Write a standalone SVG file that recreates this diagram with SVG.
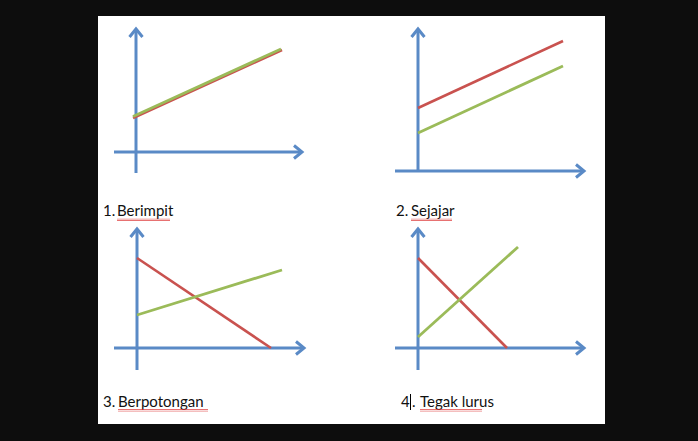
<svg xmlns="http://www.w3.org/2000/svg" width="698" height="441" viewBox="0 0 698 441">
<style>
.axis{stroke:#5a8ac6;stroke-width:3;fill:none;marker-end:url(#arr)}
.red{stroke:#c9524f;stroke-width:2.6;fill:none}
.green{stroke:#9bbb59;stroke-width:2.8;fill:none}
.lbl{font-family:"Lato","Liberation Sans",sans-serif;font-size:15px;fill:#111}
.sq{fill:url(#squig)}
</style>
<defs>
<marker id="arr" markerUnits="userSpaceOnUse" markerWidth="20" markerHeight="20" viewBox="-12 -10 14 20" refX="0" refY="0" orient="auto">
<path d="M-8,-6.5 L0,0 L-8,6.5" fill="none" stroke="#5a8ac6" stroke-width="3"/>
</marker>
<pattern id="squig" width="2" height="3" patternUnits="userSpaceOnUse">
<path d="M0,2.5 L1,0.5 L2,2.5" fill="none" stroke="#d33" stroke-width="0.7"/>
</pattern>
</defs>
<rect width="698" height="441" fill="#0d0d0d"/>
<rect x="98" y="16" width="507" height="408" fill="#ffffff"/>

<g id="panel1">
<line class="axis" x1="136" y1="173" x2="136" y2="29"/>
<line class="axis" x1="114" y1="152" x2="302" y2="152"/>
<line class="red" x1="133" y1="118" x2="282" y2="50"/>
<line class="green" x1="133" y1="116.5" x2="281" y2="49"/>
<text class="lbl" y="216"><tspan x="103">1.</tspan><tspan x="117">Berimpit</tspan></text>
<rect class="sq" x="117" y="218" width="53" height="3"/>
</g>

<g id="panel2">
<line class="axis" x1="418" y1="172" x2="418" y2="29"/>
<line class="axis" x1="395" y1="171" x2="584" y2="171"/>
<line class="red" x1="418" y1="108" x2="563" y2="41"/>
<line class="green" x1="418" y1="133" x2="563" y2="66"/>
<text class="lbl" y="216"><tspan x="396">2.</tspan><tspan x="411">Sejajar</tspan></text>
<rect class="sq" x="411" y="218" width="41" height="3"/>
</g>

<g id="panel3">
<line class="axis" x1="137" y1="370" x2="137" y2="229"/>
<line class="axis" x1="114" y1="348" x2="304" y2="348"/>
<line class="red" x1="137" y1="258" x2="271" y2="348"/>
<line class="green" x1="137" y1="315" x2="282" y2="270"/>
<text class="lbl" y="407"><tspan x="103">3.</tspan><tspan x="118">Berpotongan</tspan></text>
<rect class="sq" x="118" y="409" width="90" height="3"/>
</g>

<g id="panel4">
<line class="axis" x1="418" y1="370" x2="418" y2="229"/>
<line class="axis" x1="395" y1="348" x2="584" y2="348"/>
<line class="red" x1="418" y1="258" x2="507" y2="348"/>
<line class="green" x1="418" y1="337" x2="518" y2="247"/>
<text class="lbl" y="407"><tspan x="401">4</tspan><tspan x="412">.</tspan><tspan x="420">Tegak lurus</tspan></text>
<line x1="410.5" y1="394" x2="410.5" y2="410" stroke="#000" stroke-width="1"/>
<rect class="sq" x="420" y="409" width="62" height="3"/>
</g>
</svg>
